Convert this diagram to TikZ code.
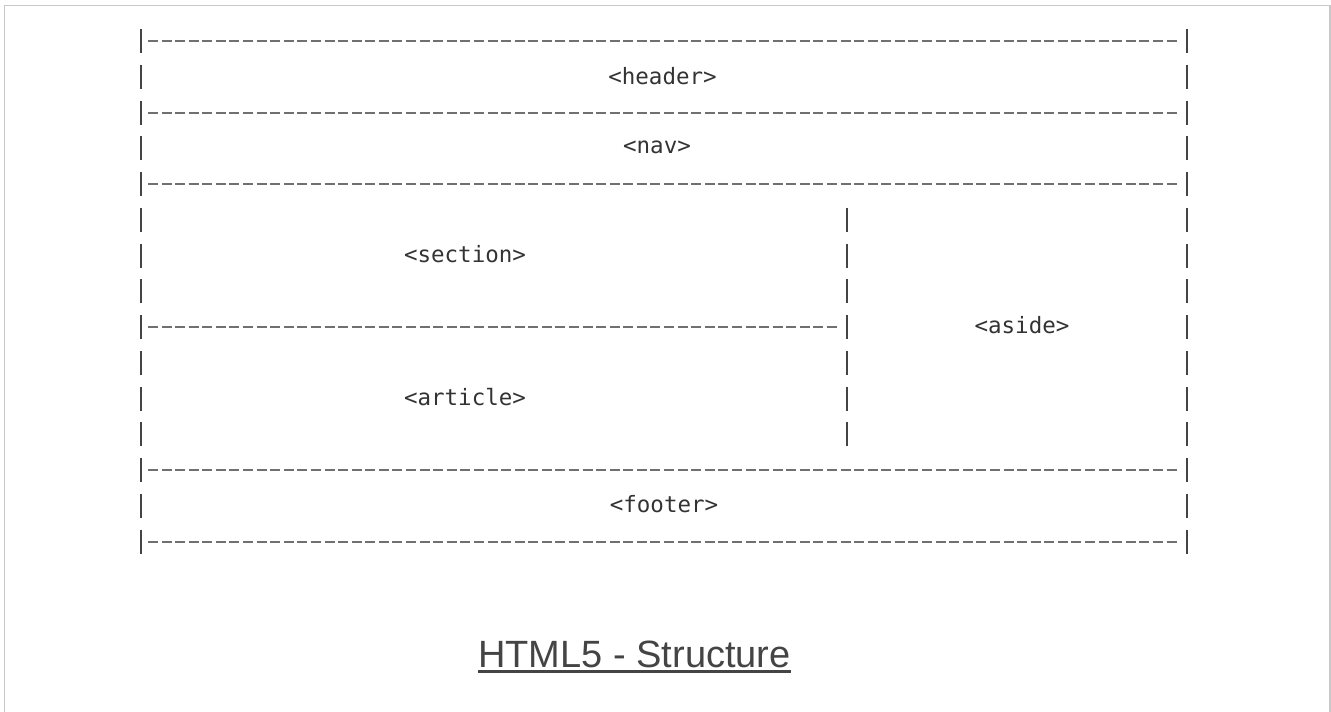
\documentclass[tikz,border=0pt]{standalone}
\usepackage{fontspec}
\setmainfont{Liberation Sans}
\newfontfamily\monofont{DejaVu Sans Mono}
\definecolor{framegray}{HTML}{C8C8C8}
\definecolor{bargray}{HTML}{444444}
\definecolor{dashgray}{HTML}{707070}
\definecolor{txtgray}{HTML}{333333}
\definecolor{titlegray}{HTML}{444444}
\begin{document}
\begin{tikzpicture}[x=1pt,y=-1pt,
  frameline/.style={draw=framegray, line width=1.5pt},
  barline/.style={draw=bargray, line width=2pt},
  dashrow/.style={draw=dashgray, line width=2pt, dash pattern=on 10pt off 3.58pt},
  tag/.style={font=\monofont\fontsize{22.5}{27}\selectfont, text=txtgray, inner sep=0pt},
  titletext/.style={font=\fontsize{38}{44}\selectfont, text=titlegray, inner sep=0pt, anchor=base}
]
\useasboundingbox (0,0) rectangle (1331,712);
% outer frame
\draw[frameline] (4.5,712) -- (4.5,5.5) -- (1330,5.5) -- (1330,712);
% vertical bars
\foreach \i in {0,...,14}{
  \pgfmathsetmacro{\r}{41+35.75*\i}
  \draw[barline] (141,\r-12) -- (141,\r+12);
  \draw[barline] (1187,\r-12) -- (1187,\r+12);
}
\foreach \i in {5,...,11}{
  \pgfmathsetmacro{\r}{41+35.75*\i}
  \draw[barline] (847,\r-12) -- (847,\r+12);
}
% horizontal dashed rows
\foreach \i in {0,2,4,12,14}{
  \pgfmathsetmacro{\r}{41+35.75*\i}
  \draw[dashrow] (148,\r) -- (1177,\r);
}
\draw[dashrow] (148,327) -- (838,327);
% labels
\node[tag] (header)  at (662.5,76) {<header>};
\node[tag] (nav)     at (657,147)  {<nav>};
\node[tag] (section) at (465,254)  {<section>};
\node[tag] (aside)   at (1022,325) {<aside>};
\node[tag] (article) at (465,397)  {<article>};
\node[tag] (footer)  at (664,504)  {<footer>};
% title
\node[titletext] (title) at (634.5,667) {HTML5 - Structure};
\draw[draw=titlegray, line width=3pt] ([yshift=-4.5pt]title.base west) -- ([yshift=-4.5pt]title.base east);
\end{tikzpicture}
\end{document}
